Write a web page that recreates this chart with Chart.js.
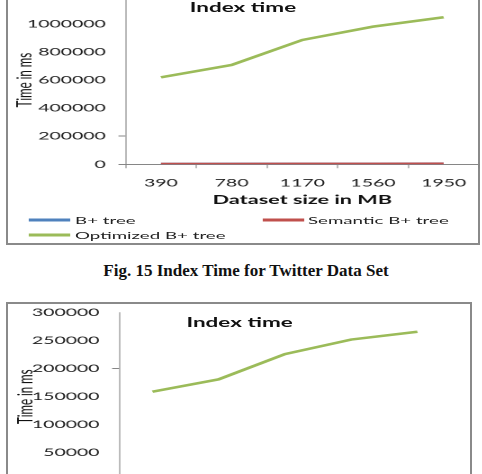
<!DOCTYPE html>
<html>
<head>
<meta charset="utf-8">
<script src="https://cdn.jsdelivr.net/npm/chart.js@4/dist/chart.umd.min.js"></script>
<style>
html,body{margin:0;padding:0;background:#fff;width:482px;height:474px;overflow:hidden;position:relative;}
.box{position:absolute;border:2px solid #8a8a8a;box-sizing:border-box;}
.sx{position:absolute;left:0;width:268px;transform:scaleX(1.8);transform-origin:0 0;}
.sx canvas{position:absolute;left:0;}
.ctitle{position:absolute;font:bold 12.5px Lato,sans-serif;color:#111;white-space:nowrap;transform:translate(-50%,-50%);}
.leg{position:absolute;font:10.4px Lato,sans-serif;color:#222;white-space:nowrap;transform:translateY(-50%);}
.legline{position:absolute;height:3px;transform:translateY(-50%);}
.caption{position:absolute;left:245.5px;top:262px;white-space:nowrap;font:bold 16px "Liberation Serif","Times New Roman",serif;color:#111;transform:translateX(-50%) scaleX(1.063);}
</style>
</head>
<body>
<div class="box" style="left:6.3px;top:-10px;width:473.7px;height:255.3px;"></div>
<div class="box" style="left:6.3px;top:302.3px;width:465.7px;height:200px;"></div>

<div class="sx" id="wrap1" style="top:-12px;height:260px;">
  <canvas id="c1" width="268" height="243" style="top:-18px;"></canvas>
  <div class="ctitle" style="left:135px;top:19px;">Index time</div>
  <div id="legend1"></div>
</div>

<div class="caption">Fig. 15 Index Time for Twitter Data Set</div>

<div class="sx" id="wrap2" style="top:290px;height:240px;">
  <canvas id="c2" width="268" height="240" style="top:0;"></canvas>
  <div class="ctitle" style="left:133.1px;top:31.7px;">Index time</div>
</div>

<script>
// ---- data ----
const categories = ['390', '780', '1170', '1560', '1950'];
const seriesNames = ['B+ tree', 'Semantic B+ tree', 'Optimized B+ tree'];
const seriesColors = ['#4F81BD', '#C0504D', '#9BBB59'];

// Fig. 15 (Twitter data set)
const twitterBPlus = [2500, 3000, 3600, 4200, 4800];
const twitterSemantic = [1800, 2200, 2700, 3100, 3600];
const twitterOptimized = [620000, 708000, 886000, 981000, 1048000];
const yTicksTop = [0, 200000, 400000, 600000, 800000, 1000000, 1200000];

// next figure (partially visible)
const nextBPlus = [1500, 1800, 2200, 2600, 3000];
const nextSemantic = [1000, 1300, 1600, 1900, 2200];
const nextOptimized = [159000, 181000, 226000, 252000, 266000];
const yTicksBottom = [0, 50000, 100000, 150000, 200000, 250000, 300000];

const tickMarkValues = [0, 200000];
const axisGray = '#868686';

function makeChart(id, cfg) {
  const datasets = [cfg.b, cfg.s, cfg.o].map((d, i) => ({
    label: seriesNames[i],
    data: d,
    borderColor: seriesColors[i],
    backgroundColor: seriesColors[i],
    borderWidth: 2.5,
    pointRadius: 0,
    tension: 0,
    fill: false,
    order: 2 - i
  }));
  return new Chart(document.getElementById(id), {
    type: 'line',
    data: { labels: categories, datasets },
    options: {
      responsive: false,
      animation: false,
      devicePixelRatio: 2,
      layout: { padding: cfg.padding },
      plugins: { legend: { display: false }, title: { display: false }, tooltip: { enabled: false } },
      scales: {
        x: {
          type: 'category',
          offset: true,
          grid: { offset: true, drawOnChartArea: false, drawTicks: true, tickLength: 4, color: axisGray, lineWidth: 0.56 },
          border: { color: axisGray, width: 1 },
          ticks: { font: { family: 'Lato', size: 10.8 }, color: '#222', padding: 8.2, maxRotation: 0, autoSkip: false },
          title: { display: true, text: 'Dataset size in MB', color: '#111',
                   font: { family: 'Lato', size: 12, weight: 'bold' }, padding: { top: 0, bottom: 5.8 } },
          afterFit: s => { s.height = cfg.xHeight; }
        },
        y: {
          min: 0,
          max: cfg.yTicks[cfg.yTicks.length - 1],
          afterBuildTicks: s => { s.ticks = cfg.yTicks.map(v => ({ value: v })); },
          grid: { drawOnChartArea: false, drawTicks: true, tickLength: 4, lineWidth: 1,
                  tickColor: ctx => (ctx.tick && tickMarkValues.includes(ctx.tick.value)) ? axisGray : 'rgba(0,0,0,0)' },
          border: { color: axisGray, width: 0.56 },
          ticks: { font: { family: 'Lato', size: 10.8 }, color: '#222', padding: 7, callback: v => String(v) },
          title: { display: true, text: 'Time in ms', color: '#111',
                   font: { family: 'Lato', size: 11.5 }, padding: { top: cfg.yTitlePad, bottom: 0 } },
          afterFit: s => { s.width = cfg.yWidth; }
        }
      }
    }
  });
}

makeChart('c1', {
  b: twitterBPlus, s: twitterSemantic, o: twitterOptimized, yTicks: yTicksTop,
  padding: { top: 25.9, right: 1.9, left: 0, bottom: 0 },
  xHeight: 48.7, yWidth: 69.8, yTitlePad: 6.9
});

makeChart('c2', {
  b: nextBPlus, s: nextSemantic, o: nextOptimized, yTicks: yTicksBottom,
  padding: { top: 22.7, right: 17.7, left: 0, bottom: 0 },
  xHeight: 49.3, yWidth: 66.3, yTitlePad: 7.3
});

// HTML legend for Fig. 15
const legendPos = [
  { lx: 15.6, tx: 41.7, y: 232 },
  { lx: 146.1, tx: 171.1, y: 232 },
  { lx: 15.6, tx: 41.7, y: 247 }
];
const leg = document.getElementById('legend1');
seriesNames.forEach((name, i) => {
  const p = legendPos[i];
  const line = document.createElement('div');
  line.className = 'legline';
  line.style.left = p.lx + 'px';
  line.style.top = p.y + 'px';
  line.style.width = '23.3px';
  line.style.background = seriesColors[i];
  leg.appendChild(line);
  const t = document.createElement('div');
  t.className = 'leg';
  t.style.left = p.tx + 'px';
  t.style.top = p.y + 'px';
  t.textContent = name;
  leg.appendChild(t);
});
</script>
</body>
</html>
